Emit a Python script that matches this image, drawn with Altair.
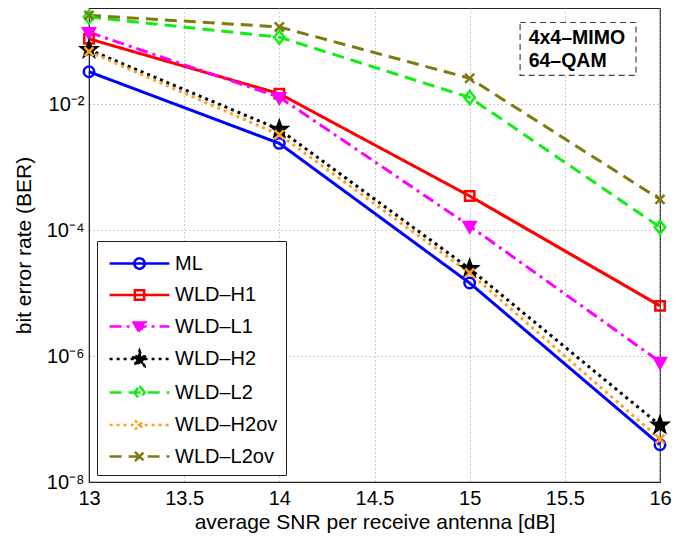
import math
import altair as alt
import pandas as pd

# ---------------- data ----------------
snr = [13, 14, 15, 16]
series = ["ML", "WLD–H1", "WLD–L1", "WLD–H2", "WLD–L2", "WLD–H2ov", "WLD–L2ov"]
ber_ML = [0.033, 2.4e-3, 1.45e-5, 3.9e-8]
ber_H1 = [0.11, 0.0148, 3.5e-4, 6.3e-6]
ber_L1 = [0.14, 0.013, 1.17e-4, 8.1e-7]
ber_H2 = [0.074, 4.0e-3, 2.45e-5, 8.0e-8]
ber_L2 = [0.245, 0.117, 0.0129, 1.12e-4]
ber_H2ov = [0.069, 3.3e-3, 2.1e-5, 4.8e-8]
ber_L2ov = [0.26, 0.17, 0.026, 3.1e-4]
all_ber = [ber_ML, ber_H1, ber_L1, ber_H2, ber_L2, ber_H2ov, ber_L2ov]

box_x = [15.265, 15.874]
box_y = [0.20, 0.029]
note_lines = ["4x4–MIMO", "64–QAM"]
note_x = [15.31, 15.31]
note_y = [0.112, 0.049]

# ---------------- styles ----------------
colors = ["#0000ff", "#ff0000", "#ff00ff", "#000000", "#11ee11", "#ffa020", "#7f7a10"]
fills = ["transparent", "transparent", "#ff00ff", "#000000", "transparent", "transparent", "transparent"]
dashes = [[1, 0], [1, 0], [12, 5, 3, 5], [3, 4], [12, 7], [3, 4], [12, 7]]

L = "M-2.3,0L2.3,0"
circle = "M-0.4,0A0.4,0.4 0 1,1 0.4,0A0.4,0.4 0 1,1 -0.4,0Z"
square = "M-0.36,-0.36L0.36,-0.36L0.36,0.36L-0.36,0.36Z"
tri = "M-0.45,-0.3L0.45,-0.3L0,0.48Z"
star_pts = []
for k in range(10):
    a = math.radians(-90 + 36 * k)
    r = 0.62 if k % 2 == 0 else 0.26
    star_pts.append(f"{r*math.cos(a):.3f},{r*math.sin(a):.3f}")
star = "M" + "L".join(star_pts) + "Z"
diamond = "M0,-0.5L0.4,0L0,0.5L-0.4,0Z"
xmark = "M-0.35,-0.35L0.35,0.35M-0.35,0.35L0.35,-0.35"
markers = [circle, square, tri, star, diamond, xmark, xmark]
legend_paths = [L + m for m in markers]

mk = ["m" + s for s in series]
dom = series + mk

rows = []
for s, m, vals in zip(series, mk, all_ber):
    for x, v in zip(snr, vals):
        rows.append({"snr": x, "ber": v, "series": s, "mk": m})
df = pd.DataFrame(rows)

FONT = "Liberation Sans"

x_enc = alt.X("snr:Q", scale=alt.Scale(domain=[13, 16], nice=False),
              axis=alt.Axis(values=[13, 13.5, 14, 14.5, 15, 15.5, 16], format="~g",
                            title="average SNR per receive antenna [dB]",
                            labelPadding=6, titlePadding=3))
y_enc = alt.Y("ber:Q", scale=alt.Scale(type="log", domain=[1e-8, 0.34], nice=False),
              axis=alt.Axis(values=[1e-8, 1e-6, 1e-4, 1e-2],
                            labelExpr="'10' + (datum.value < 1e-7 ? '⁻⁸' : datum.value < 1e-5 ? '⁻⁶' : datum.value < 1e-3 ? '⁻⁴' : '⁻²')",
                            title="bit error rate (BER)", labelPadding=5, titlePadding=12))

stroke_scale = alt.Scale(domain=dom, range=colors + colors)
fill_scale = alt.Scale(domain=dom, range=fills + fills)
dash_scale = alt.Scale(domain=dom, range=dashes + dashes)
shape_scale = alt.Scale(domain=dom, range=legend_paths + markers)

leg = alt.Legend(title=None, values=series, orient="none", legendX=8, legendY=233)

lines = alt.Chart(df).mark_line(strokeWidth=3).encode(
    x=x_enc, y=y_enc,
    stroke=alt.Stroke("mk:N", scale=stroke_scale, legend=None),
    strokeDash=alt.StrokeDash("mk:N", scale=dash_scale, legend=None),
)

points = alt.Chart(df).mark_point(size=676, strokeWidth=2.5, opacity=1).encode(
    x=x_enc, y=y_enc,
    stroke=alt.Stroke("mk:N", scale=stroke_scale, legend=None),
    fill=alt.Fill("mk:N", scale=fill_scale, legend=None),
    shape=alt.Shape("mk:N", scale=shape_scale, legend=None),
)

legend_layer = alt.Chart(df).mark_point(size=676, strokeWidth=2.5, opacity=1).encode(
    x=x_enc, y=y_enc,
    stroke=alt.Stroke("series:N", scale=stroke_scale, legend=leg),
    fill=alt.Fill("series:N", scale=fill_scale, legend=leg),
    strokeDash=alt.StrokeDash("series:N", scale=dash_scale, legend=leg),
    shape=alt.Shape("series:N", scale=shape_scale, legend=leg),
).transform_filter("false")

box_df = pd.DataFrame({"x1": [box_x[0]], "x2": [box_x[1]], "y1": [box_y[0]], "y2": [box_y[1]]})
box = alt.Chart(box_df).mark_rect(fill="white", stroke="#444444", strokeWidth=1.2,
                                  strokeDash=[6, 4]).encode(
    x="x1:Q", x2="x2:Q", y="y1:Q", y2="y2:Q")

note_df = pd.DataFrame({"t": note_lines, "x": note_x, "y": note_y})
note = alt.Chart(note_df).mark_text(align="left", baseline="middle", font=FONT,
                                    fontSize=19.5, fontWeight="bold", color="black").encode(
    x="x:Q", y="y:Q", text="t:N")

chart = alt.layer(legend_layer, lines, points, box, note).properties(
    width=571, height=474,
    autosize=alt.AutoSizeParams(type="none"),
    padding={"left": 81, "top": 0, "right": 20, "bottom": 52},
).configure_view(stroke="#222222", strokeWidth=1.2).configure_axis(
    labelFont=FONT, titleFont=FONT, labelFontSize=20, titleFontSize=21,
    labelColor="black", titleColor="black", titleFontWeight="normal",
    grid=True, gridColor="#999999", gridDash=[1, 3], gridWidth=1,
    domainColor="#222222", tickSize=0, labelFlush=False,
).configure_legend(
    padding=8, strokeColor="#222222", fillColor="white",
    symbolSize=676, symbolStrokeWidth=2.5, rowPadding=6.5,
    labelFont=FONT, labelFontSize=20, labelColor="black",
    symbolOffset=20, labelOffset=21,
)

chart.save("out.html", embed_options={"renderer": "svg", "actions": False})
